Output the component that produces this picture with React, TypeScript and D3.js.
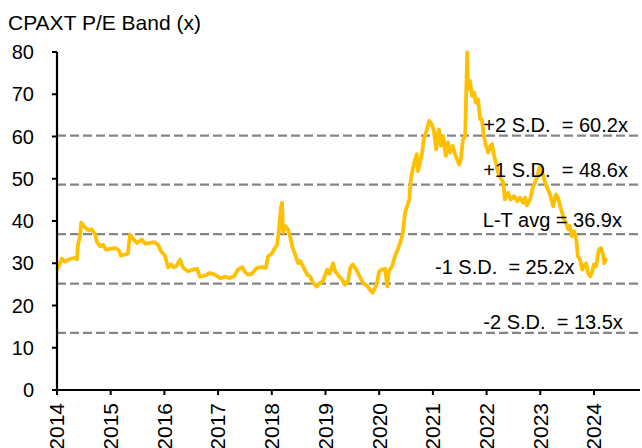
import React from "react";
import * as d3 from "d3";

// P/E series: [decimal year, P/E (x)]
const peDates: number[] = [
  2014.0, 2014.04, 2014.09, 2014.15, 2014.24, 2014.34, 2014.37, 2014.39, 2014.43, 2014.45,
  2014.5, 2014.58, 2014.65, 2014.71, 2014.74, 2014.8, 2014.86, 2014.91, 2014.99, 2015.08,
  2015.15, 2015.19, 2015.27, 2015.32, 2015.36, 2015.4, 2015.49, 2015.58, 2015.64, 2015.73,
  2015.82, 2015.88, 2015.94, 2016.01, 2016.07, 2016.12, 2016.18, 2016.22, 2016.29, 2016.35,
  2016.44, 2016.53, 2016.61, 2016.66, 2016.76, 2016.85, 2016.94, 2017.04, 2017.13, 2017.22,
  2017.31, 2017.37, 2017.45, 2017.5, 2017.56, 2017.63, 2017.72, 2017.82, 2017.89, 2017.93,
  2018.0, 2018.06, 2018.1, 2018.13, 2018.17, 2018.19, 2018.21, 2018.25, 2018.3, 2018.34,
  2018.38, 2018.43, 2018.49, 2018.53, 2018.58, 2018.66, 2018.71, 2018.77, 2018.84, 2018.9,
  2018.95, 2019.03, 2019.08, 2019.14, 2019.18, 2019.23, 2019.31, 2019.36, 2019.42, 2019.46,
  2019.51, 2019.59, 2019.64, 2019.7, 2019.77, 2019.83, 2019.88, 2019.92, 2019.96, 2020.0,
  2020.05, 2020.11, 2020.15, 2020.18, 2020.24, 2020.29, 2020.35, 2020.41, 2020.44, 2020.48,
  2020.52, 2020.56, 2020.59, 2020.63, 2020.67, 2020.7, 2020.72, 2020.76, 2020.8, 2020.83,
  2020.89, 2020.93, 2020.98, 2021.02, 2021.06, 2021.08, 2021.11, 2021.15, 2021.19, 2021.24,
  2021.28, 2021.32, 2021.37, 2021.41, 2021.45, 2021.49, 2021.52, 2021.56, 2021.6, 2021.64,
  2021.65, 2021.69, 2021.73, 2021.77, 2021.8, 2021.84, 2021.88, 2021.91, 2021.95, 2021.99,
  2022.03, 2022.06, 2022.1, 2022.14, 2022.18, 2022.21, 2022.25, 2022.31, 2022.34, 2022.4,
  2022.45, 2022.51, 2022.57, 2022.62, 2022.68, 2022.72, 2022.75, 2022.81, 2022.86, 2022.9,
  2022.94, 2022.99, 2023.03, 2023.09, 2023.14, 2023.18, 2023.24, 2023.29, 2023.33, 2023.37,
  2023.4, 2023.44, 2023.48, 2023.52, 2023.55, 2023.59, 2023.63, 2023.67, 2023.7, 2023.74,
  2023.78, 2023.81, 2023.85, 2023.89, 2023.93, 2023.96, 2024.0, 2024.04, 2024.09, 2024.13,
  2024.17, 2024.19, 2024.22, 2024.24,
];
const peValues: number[] = [
  28.5, 29.5, 31.1, 30.4, 31.0, 31.3, 30.9, 34.4, 36.4, 39.6,
  38.8, 37.8, 38.0, 36.8, 35.2, 34.0, 34.4, 33.2, 33.4, 33.6,
  33.1, 31.8, 32.1, 32.3, 36.8, 36.0, 34.8, 35.6, 34.6, 34.8,
  35.0, 34.4, 32.8, 31.8, 29.0, 29.7, 29.0, 29.3, 30.9, 28.9,
  28.1, 28.5, 28.7, 26.8, 27.1, 27.7, 27.3, 26.5, 26.8, 26.5,
  27.1, 28.5, 29.1, 27.9, 27.3, 27.5, 28.9, 29.1, 28.9, 31.6,
  32.3, 33.6, 34.4, 37.6, 43.1, 44.3, 37.3, 38.8, 38.0, 36.4,
  34.0, 32.2, 30.0, 30.5, 29.3, 27.3, 26.9, 25.3, 24.5, 25.3,
  25.7, 28.5, 27.5, 30.0, 28.1, 27.3, 26.1, 24.9, 25.7, 28.9,
  29.7, 28.1, 26.8, 25.3, 24.7, 23.7, 23.0, 24.1, 25.3, 28.1,
  28.5, 28.7, 24.5, 28.1, 29.3, 31.5, 33.4, 35.6, 37.2, 41.9,
  43.5, 45.1, 49.9, 52.6, 54.6, 55.8, 51.8, 53.8, 56.2, 59.3,
  61.7, 63.7, 62.9, 61.3, 57.0, 59.3, 61.7, 57.8, 60.1, 55.4,
  58.6, 56.2, 57.8, 55.8, 54.6, 53.4, 54.6, 59.3, 60.1, 79.9,
  71.2, 73.2, 69.6, 70.4, 68.0, 68.8, 64.1, 64.1, 60.1, 57.8,
  56.2, 57.6, 58.2, 55.4, 53.5, 51.6, 50.5, 49.1, 45.1, 46.7,
  45.1, 45.9, 44.7, 45.5, 44.3, 45.5, 43.7, 45.1, 47.9, 49.1,
  50.3, 53.0, 51.8, 49.1, 47.5, 46.3, 43.5, 46.3, 45.5, 43.5,
  42.3, 40.4, 39.6, 38.0, 38.8, 36.4, 37.6, 35.6, 31.6, 30.9,
  28.5, 29.3, 30.0, 27.7, 26.9, 27.7, 29.7, 29.3, 33.2, 33.6,
  32.0, 30.0, 30.9, 30.5,
];

const bandValues: number[] = [60.2, 48.6, 36.9, 25.2, 13.5];
const bandLabels: string[] = [
  "+2 S.D.  = 60.2x",
  "+1 S.D.  = 48.6x",
  "L-T avg = 36.9x",
  "-1 S.D.  = 25.2x",
  "-2 S.D.  = 13.5x",
];
const yTicks: number[] = [0, 10, 20, 30, 40, 50, 60, 70, 80];
const xTicks: number[] = [2014, 2015, 2016, 2017, 2018, 2019, 2020, 2021, 2022, 2023, 2024];
const title = "CPAXT P/E Band (x)";

const W = 642;
const H = 448;
const FONT = "'Liberation Sans', Arial, Helvetica, sans-serif";

export default function App() {
  const x = d3.scaleLinear().domain([2014, 2024.857]).range([57, 640]);
  const y = d3.scaleLinear().domain([0, 80]).range([390, 52]);
  const pts: [number, number][] = peDates.map((d, i) => [d, peValues[i]]);
  const line = d3
    .line<[number, number]>()
    .x((d) => x(d[0]))
    .y((d) => y(d[1]));

  // label left positions (in year units) and vertical offsets for band annotations
  const labelX = [2021.94, 2021.94, 2021.93, 2021.04, 2021.94];
  const labelDy = [-4, -8, -7, -9.5, -4];

  return (
    <svg
      width={W}
      height={H}
      style={{ position: "absolute", left: 0, top: 0, background: "#fff" }}
      fontFamily={FONT}
    >
      <rect x={0} y={0} width={W} height={H} fill="#fff" />
      <text x={8} y={30} fontSize={21} fill="#000">
        {title}
      </text>

      {bandValues.map((v, i) => (
        <line
          key={"b" + i}
          x1={x(2014)}
          x2={W}
          y1={y(v)}
          y2={y(v)}
          stroke="#858585"
          strokeWidth={2.3}
          strokeDasharray="9,4"
        />
      ))}

      <path d={line(pts) || ""} fill="none" stroke="#FFC000" strokeWidth={3.8} strokeLinejoin="round" />

      {bandValues.map((v, i) => (
        <text
          key={"bl" + i}
          x={x(labelX[i])}
          y={y(v) + labelDy[i]}
          fontSize={20}
          fill="#000"
          style={{ whiteSpace: "pre" }}
        >
          {bandLabels[i]}
        </text>
      ))}

      {/* axes */}
      <line x1={x(2014)} x2={x(2014)} y1={y(80)} y2={y(0)} stroke="#000" strokeWidth={2.2} />
      <line x1={x(2014) - 1} x2={640} y1={y(0)} y2={y(0)} stroke="#000" strokeWidth={2.2} />
      {yTicks.map((t) => (
        <g key={"yt" + t}>
          <line x1={x(2014) - 5} x2={x(2014)} y1={y(t)} y2={y(t)} stroke="#000" strokeWidth={2} />
          <text x={34} y={y(t)} dy="0.35em" textAnchor="end" fontSize={20} fill="#000">
            {t}
          </text>
        </g>
      ))}
      {xTicks.map((t) => (
        <g key={"xt" + t}>
          <line x1={x(t)} x2={x(t)} y1={y(0)} y2={y(0) + 5} stroke="#000" strokeWidth={2} />
          <text
            transform={`translate(${x(t)},403) rotate(-90)`}
            dy="0.35em"
            textAnchor="end"
            fontSize={21}
            fill="#000"
          >
            {t}
          </text>
        </g>
      ))}
    </svg>
  );
}
